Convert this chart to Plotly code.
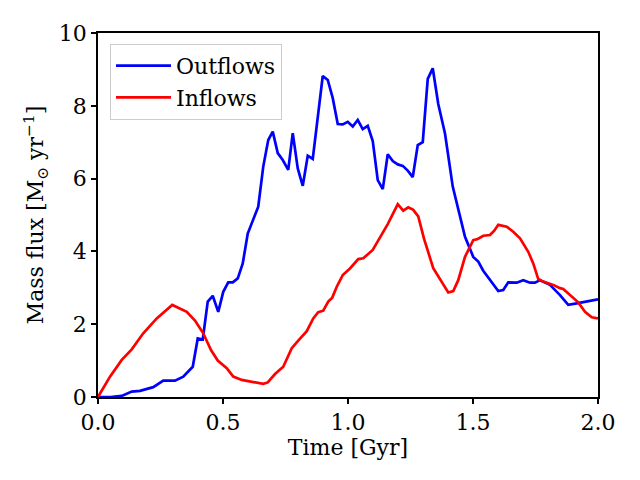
import plotly.graph_objects as go

# Outflows (blue)
time_out = [0.0, 0.05, 0.095, 0.135, 0.168, 0.221, 0.261, 0.308, 0.341, 0.379, 0.399, 0.419,
            0.439, 0.459, 0.481, 0.501, 0.521, 0.539, 0.559, 0.579, 0.599, 0.621, 0.641,
            0.661, 0.681, 0.699, 0.719, 0.739, 0.761, 0.779, 0.799, 0.819, 0.839, 0.859,
            0.879, 0.899, 0.919, 0.939, 0.959, 0.979, 0.999, 1.019, 1.039, 1.059, 1.079,
            1.099, 1.119, 1.139, 1.159, 1.179, 1.199, 1.219, 1.239, 1.259, 1.279, 1.299,
            1.319, 1.339, 1.361, 1.388, 1.419, 1.441, 1.468, 1.501, 1.521, 1.541, 1.568,
            1.601, 1.621, 1.641, 1.675, 1.701, 1.728, 1.748, 1.768, 1.808, 1.848, 1.881,
            1.915, 1.955, 2.0]
outflows = [0.0, 0.0, 0.03, 0.15, 0.17, 0.27, 0.45, 0.45, 0.56, 0.83, 1.61, 1.58,
            2.62, 2.78, 2.34, 2.89, 3.15, 3.15, 3.26, 3.67, 4.49, 4.90, 5.23,
            6.33, 7.06, 7.29, 6.70, 6.51, 6.24, 7.25, 6.28, 5.80, 6.63, 6.54,
            7.70, 8.82, 8.71, 8.21, 7.50, 7.49, 7.56, 7.43, 7.61, 7.36, 7.45,
            7.03, 5.96, 5.71, 6.67, 6.48, 6.39, 6.35, 6.22, 6.04, 6.92, 7.00,
            8.74, 9.03, 8.05, 7.24, 5.78, 5.14, 4.40, 3.85, 3.72, 3.47, 3.23,
            2.91, 2.94, 3.15, 3.14, 3.21, 3.14, 3.14, 3.21, 3.08, 2.80, 2.53,
            2.57, 2.62, 2.68]

# Inflows (red)
time_in = [0.0, 0.048, 0.095, 0.135, 0.181, 0.235, 0.297, 0.355, 0.388, 0.421, 0.452, 0.479,
           0.515, 0.541, 0.575, 0.621, 0.661, 0.679, 0.708, 0.741, 0.775, 0.801, 0.835,
           0.861, 0.881, 0.901, 0.921, 0.937, 0.955, 0.979, 1.008, 1.041, 1.061, 1.099,
           1.135, 1.159, 1.199, 1.221, 1.241, 1.261, 1.281, 1.304, 1.341, 1.375, 1.401,
           1.421, 1.441, 1.468, 1.501, 1.519, 1.541, 1.568, 1.585, 1.601, 1.635, 1.661,
           1.688, 1.721, 1.741, 1.761, 1.781, 1.821, 1.848, 1.861, 1.895, 1.921, 1.948,
           1.975, 2.0]
inflows = [0.0, 0.56, 1.02, 1.31, 1.75, 2.16, 2.53, 2.34, 2.10, 1.75, 1.29, 1.00,
           0.79, 0.56, 0.47, 0.42, 0.36, 0.40, 0.63, 0.83, 1.34, 1.55, 1.81,
           2.16, 2.33, 2.37, 2.62, 2.73, 3.03, 3.35, 3.53, 3.79, 3.81, 4.04,
           4.49, 4.75, 5.30, 5.12, 5.21, 5.14, 4.96, 4.35, 3.54, 3.17, 2.87,
           2.91, 3.21, 3.85, 4.31, 4.34, 4.43, 4.45, 4.57, 4.73, 4.68, 4.54,
           4.36, 3.99, 3.67, 3.24, 3.17, 3.08, 2.99, 2.97, 2.76, 2.60, 2.34,
           2.19, 2.16]

x_ticks = [0.0, 0.5, 1.0, 1.5, 2.0]
y_ticks = [0, 2, 4, 6, 8, 10]

font = dict(family="DejaVu Serif", size=22, color="black")

fig = go.Figure()
fig.add_trace(go.Scatter(x=time_out, y=outflows, mode="lines", name="Outflows",
                         line=dict(color="#0000ff", width=2.7)))
fig.add_trace(go.Scatter(x=time_in, y=inflows, mode="lines", name="Inflows",
                         line=dict(color="#ff0000", width=2.7)))

axis_style = dict(showline=True, linecolor="black", linewidth=1.5, mirror=True,
                  ticks="outside", ticklen=5, tickwidth=1.5, tickcolor="black",
                  showgrid=False, zeroline=False, tickfont=font)

fig.update_xaxes(range=[0, 2], tickvals=x_ticks, tickformat=".1f",
                 title=dict(text="Time [Gyr]", font=font, standoff=3), **axis_style)
fig.update_yaxes(range=[0, 10], tickvals=y_ticks,
                 title=dict(text="Mass flux [M<sub>⊙</sub> yr<sup>−1</sup>]", font=font,
                            standoff=9), **axis_style)

# page body adds an 8px offset, so margins are shifted to compensate
fig.update_layout(
    width=640, height=480,
    margin=dict(l=90, r=50, t=25, b=91),
    paper_bgcolor="white", plot_bgcolor="white",
    font=font,
    legend=dict(x=0.024, y=0.97, xanchor="left", yanchor="top",
                bgcolor="rgba(255,255,255,0.8)", bordercolor="#cccccc", borderwidth=1,
                font=font, itemwidth=55),
)

fig.write_html("out.html")
